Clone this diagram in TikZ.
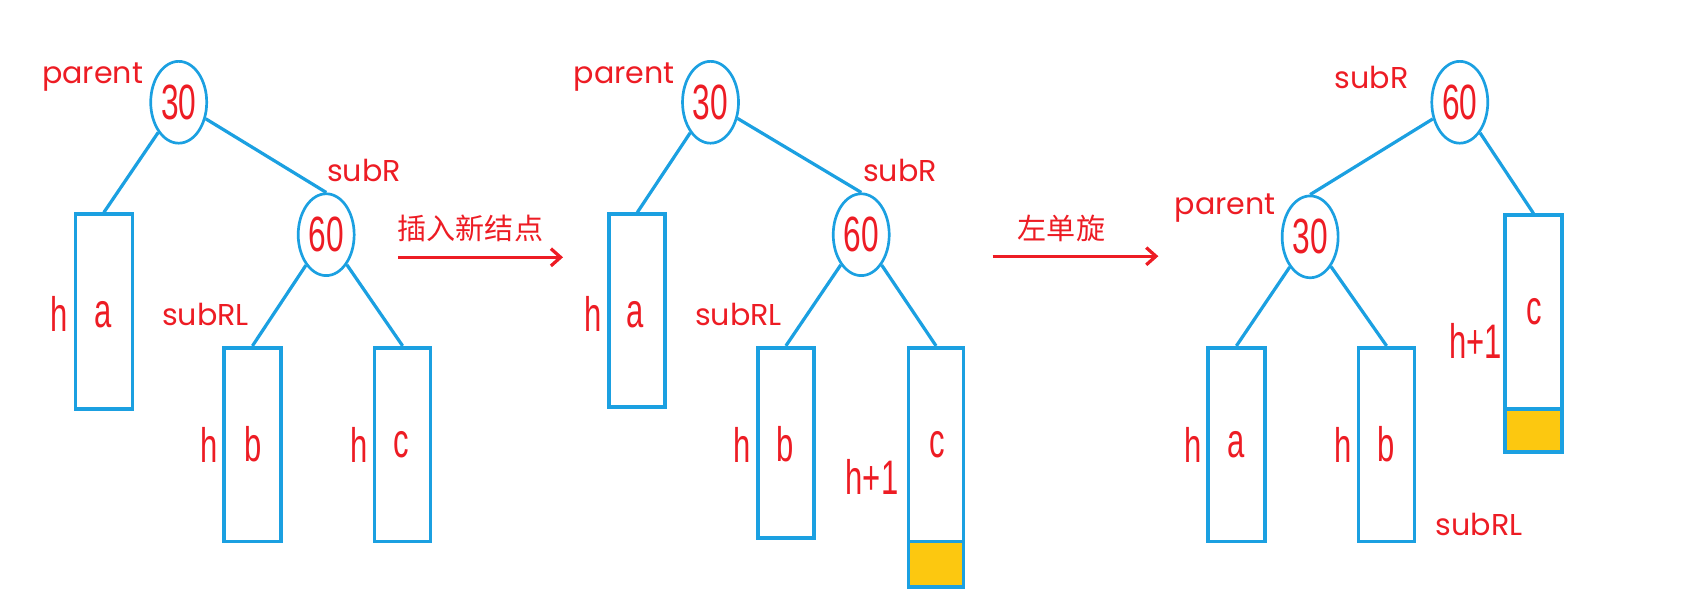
\documentclass[tikz,border=0pt]{standalone}
\usepackage{fontspec}
\usetikzlibrary{shapes.geometric,arrows.meta}
\newfontfamily\labfont{Poppins}
\newfontfamily\narfont[FakeStretch=0.64]{Liberation Sans}
\newfontfamily\cjkfont{Noto Sans CJK SC}
\definecolor{tblue}{RGB}{27,160,225}
\definecolor{tred}{RGB}{237,28,36}
\definecolor{tyellow}{RGB}{252,200,16}
\tikzset{
  keynode/.style={ellipse,draw=tblue,line width=2.5pt,minimum width=52pt,minimum height=76pt,inner sep=0pt,text=tred,font=\narfont\fontsize{46}{46}\selectfont},
  treebox/.style={draw=tblue,line width=3.4pt,fill=white,inner sep=0pt},
  newbox/.style={draw=tblue,line width=3.4pt,fill=tyellow,inner sep=0pt},
  edge/.style={draw=tblue,line width=3pt},
  namelab/.style={text=tred,font=\labfont\fontsize{28}{28}\selectfont,inner sep=0pt},
  htlab/.style={text=tred,font=\narfont\fontsize{45}{45}\selectfont,inner sep=0pt},
  steplab/.style={text=tred,font=\cjkfont\fontsize{27}{27}\selectfont,inner sep=0pt},
  steparrow/.style={draw=tred,line width=3pt,-{Straight Barb[length=9pt,width=16pt,line width=3pt]}}
}
\begin{document}
\begin{tikzpicture}[x=1pt,y=-1pt]
\useasboundingbox (0,0) rectangle (1568,565);
% ---------- tree 1 ----------
\node[treebox,minimum width=53pt,minimum height=181pt] (a1) at (96.5,289.5) {};
\node[treebox,minimum width=53pt,minimum height=180pt] (b1) at (234.5,413) {};
\node[treebox,minimum width=52pt,minimum height=180pt] (c1) at (374,413) {};
\node[keynode] (p1) at (166,95) {30};
\node[keynode] (s1) at (303,218) {60};
\draw[edge] (p1) -- (a1.north);
\draw[edge] (p1) -- (s1.north);
\draw[edge] (s1) -- (b1.north);
\draw[edge] (s1) -- (c1.north);
\node[namelab] (lp1) at (86,72) {parent};
\node[namelab] (ls1) at (338,158) {subR};
\node[namelab] (lrl1) at (191,292) {subRL};
\node[htlab] (ha1) at (55,292) {h};
\node[htlab] (ta1) at (96,292) {a};
\node[htlab] (hb1) at (194,413) {h};
\node[htlab] (tb1) at (235,413) {b};
\node[htlab] (hc1) at (334,413) {h};
\node[htlab] (tc1) at (373,413) {c};
% arrow 1
\coordinate (ar1s) at (370,239);
\coordinate (ar1e) at (523,239);
\draw[steparrow] (ar1s) -- (ar1e);
\node[steplab] (st1) at (437,212) {插入新结点};
% ---------- tree 2 ----------
\node[treebox,minimum width=52pt,minimum height=179pt] (a2) at (592,288.5) {};
\node[treebox,minimum width=52pt,minimum height=177pt] (b2) at (730,411.5) {};
\node[treebox,minimum width=51pt,minimum height=180pt] (c2) at (869.5,413) {};
\node[newbox,minimum width=51pt,minimum height=42pt] (y2) at (869.5,524) {};
\node[keynode] (p2) at (660,95) {30};
\node[keynode] (s2) at (800,218) {60};
\draw[edge] (p2) -- (a2.north);
\draw[edge] (p2) -- (s2.north);
\draw[edge] (s2) -- (b2.north);
\draw[edge] (s2) -- (c2.north);
\node[namelab] (lp2) at (580,72) {parent};
\node[namelab] (ls2) at (836,158) {subR};
\node[namelab] (lrl2) at (686,292) {subRL};
\node[htlab] (ha2) at (551,292) {h};
\node[htlab] (ta2) at (590,292) {a};
\node[htlab] (hb2) at (689,413) {h};
\node[htlab] (tb2) at (729,413) {b};
\node[htlab] (hc2) at (810,443) {h+1};
\node[htlab] (tc2) at (871,413) {c};
% arrow 2
\coordinate (ar2s) at (922,238);
\coordinate (ar2e) at (1076,238);
\draw[steparrow] (ar2s) -- (ar2e);
\node[steplab] (st2) at (986,212) {左单旋};
% ---------- tree 3 ----------
\node[treebox,minimum width=53pt,minimum height=180pt] (a3) at (1148.5,413) {};
\node[treebox,minimum width=52pt,minimum height=180pt] (b3) at (1288,413) {};
\node[treebox,minimum width=53pt,minimum height=180pt] (c3) at (1424.5,290) {};
\node[newbox,minimum width=53pt,minimum height=40pt] (y3) at (1424.5,400) {};
\node[keynode] (r3) at (1356,95) {60};
\node[keynode] (q3) at (1217,220) {30};
\draw[edge] (r3) -- (q3.north);
\draw[edge] (r3) -- (c3.north);
\draw[edge] (q3) -- (a3.north);
\draw[edge] (q3) -- (b3.north);
\node[namelab] (ls3) at (1274,72) {subR};
\node[namelab] (lp3) at (1138,193) {parent};
\node[namelab] (lrl3) at (1374,487) {subRL};
\node[htlab] (ha3) at (1108,413) {h};
\node[htlab] (ta3) at (1148,413) {a};
\node[htlab] (hb3) at (1248,413) {h};
\node[htlab] (tb3) at (1288,413) {b};
\node[htlab] (hc3) at (1371,317) {h+1};
\node[htlab] (tc3) at (1425,290) {c};
\end{tikzpicture}
\end{document}
